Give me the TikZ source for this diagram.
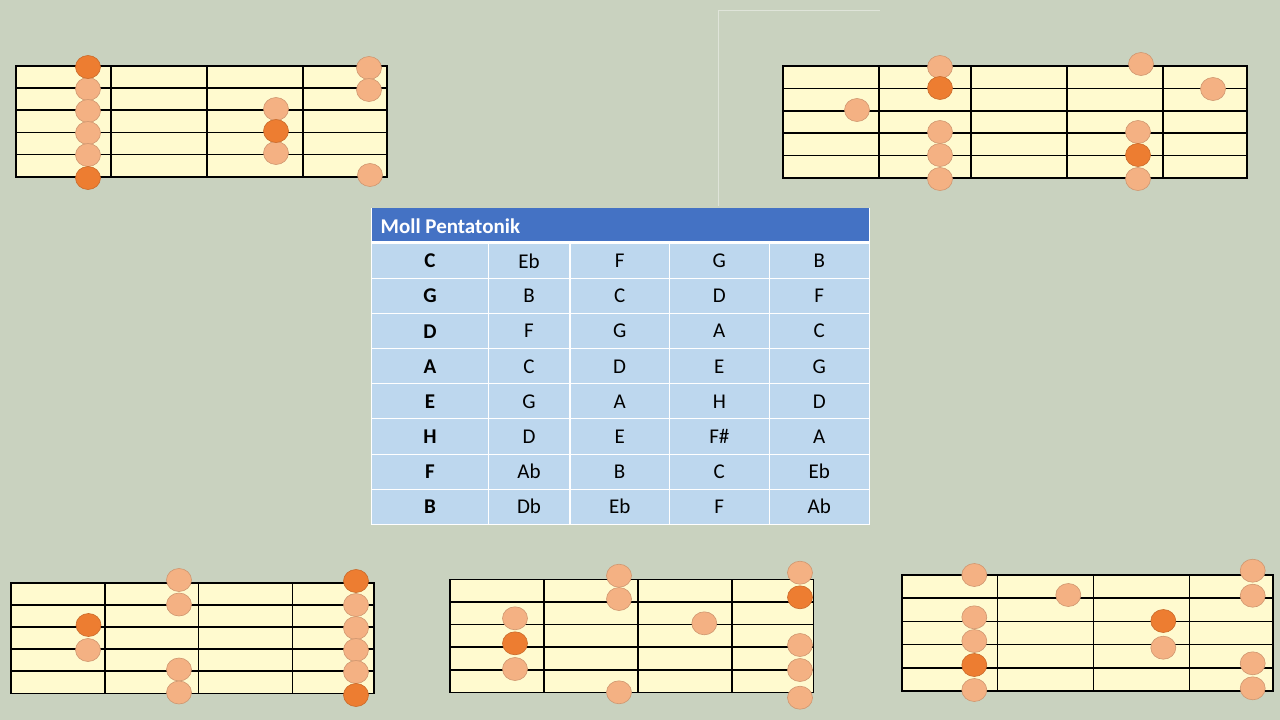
\documentclass[tikz,border=0pt]{standalone}
\usepackage{fontspec}
\setmainfont{Carlito}
\usepackage{tikz}

\definecolor{bg}{HTML}{C9D2BF}
\definecolor{fretboard}{HTML}{FFFACF}
\definecolor{notelight}{HTML}{F4B183}
\definecolor{notedark}{HTML}{ED7D31}
\definecolor{headblue}{HTML}{4472C4}
\definecolor{cellblue}{HTML}{BDD7EE}

% griffbrett: links, oben, rechts, unten, buende
\newcommand{\fretboard}[5]{%
  \fill[fretboard] (#1,#2) rectangle (#3,#4);
  \foreach \s in {1,...,4} \draw[fretline] (#1,{#2+\s*(#4-#2)/5}) -- (#3,{#2+\s*(#4-#2)/5});
  \foreach \f in {#5} \draw[fretline] (\f,#2) -- (\f,#4);
  \draw[fretline] (#1,#2) rectangle (#3,#4);
}

\begin{document}
\begin{tikzpicture}[x=1pt,y=-1pt,
  fretline/.style={black, line width=1.6pt},
  light/.style={fill=notelight, draw=notelight!85!black, line width=0.6pt},
  dark/.style={fill=notedark, draw=notedark!85!black, line width=0.6pt},
  gridline/.style={white, line width=1.5pt},
  cell/.style={inner sep=0pt, text=black, font=\fontsize{21}{24}\selectfont},
  faint/.style={draw=bg!60!white, line width=0.8pt}]
\useasboundingbox (0,0) rectangle (1280,720);
\fill[bg] (0,0) rectangle (1280,720);
\draw[faint] (880,10) -- (718,10) -- (718,206);

% griffbretter
\fretboard{15.7}{66}{386.7}{176.7}{111,207,303}
\fretboard{783}{66}{1247}{178}{879,971,1067,1163}
\fretboard{11}{582.7}{374}{693.3}{105,198.3,292.3}
\fretboard{450}{579.3}{813.3}{692.3}{544,637.7,732}
\fretboard{901.7}{575}{1272.7}{691}{997.3,1093.3,1189.3}

% toene
\foreach \x/\y in {88/89,88/111,88/133,88/155,276/109,276/153,369/68,369/90,370/175,
  940/67,940/132,940/155,940/179,857/110,1141/64,1138/132,1138/179,1213/89,
  88/650,179/580,179/604.5,179/669.5,179/692.5,356/605,356/628,356/650,356/672,
  515/618.3,515/669,619/575.7,619/599,619/692.3,704.3/623.3,800/572.7,800/645,800/670,800/697.7,
  974.3/575,974.3/617.3,974.3/641,974.3/690,1068.3/595,1163.3/647.7,1252.7/570.7,1252.7/595.7,1252.7/663.3,1252.7/688.3}
  \draw[light] (\x,\y) ellipse [x radius=12.5pt, y radius=11.5pt];
\foreach \x/\y in {88/67,88/178,276/131,940/88,1138/155,88.5/625,356/581,356/695,
  515/643.3,800/597.3,974.3/665,1163.3/621}
  \draw[dark] (\x,\y) ellipse [x radius=12.5pt, y radius=11.5pt];

% tabelle
\fill[white] (371,207.5) rectangle (870,525);
\fill[headblue] (372,208.3) rectangle (869,240.7);
\fill[cellblue] (372,244) rectangle (869,524);
\foreach \y in {278.3,313.3,348.3,383.3,418.3,454.3,489.3} \draw[gridline] (372,\y) -- (869,\y);
\foreach \x in {488.3,570,669.3,769.3} \draw[gridline] (\x,244) -- (\x,524);
\node[cell, anchor=west, text=white, font=\fontsize{21}{24}\selectfont\bfseries] (titel) at (380.5,226) {Moll Pentatonik};
\foreach \a/\b/\c/\d/\e [count=\i] in {C/Eb/F/G/B, G/B/C/D/F, D/F/G/A/C, A/C/D/E/G,
  E/G/A/H/D, H/D/E/F\#/A, F/Ab/B/C/Eb, B/Db/Eb/F/Ab} {
  \node[cell, font=\fontsize{21}{24}\selectfont\bfseries] (k\i) at (430,225.9+35.1*\i) {\a};
  \node[cell] (n\i-1) at (529,225.9+35.1*\i) {\b};
  \node[cell] (n\i-2) at (619.7,225.9+35.1*\i) {\c};
  \node[cell] (n\i-3) at (719.3,225.9+35.1*\i) {\d};
  \node[cell] (n\i-4) at (819.3,225.9+35.1*\i) {\e};
}
\end{tikzpicture}
\end{document}
